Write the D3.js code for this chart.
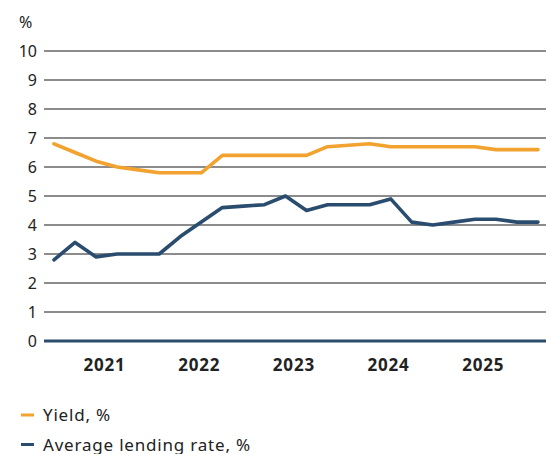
<!DOCTYPE html>
<html>
<meta charset="utf-8">
<head>
    <script src="https://d3js.org/d3.v7.min.js"></script>
    <style>
        body { margin: 0; background: #fff; }
        text { font-family: "Noto Sans", sans-serif; fill: #222; }
    </style>
</head>
<body>
    <div id="chart"></div>
</body>

<script>
    // quarterly-ish observations, one value per period
    const yieldPct = [6.8, 6.5, 6.2, 6.0, 5.9, 5.8, 5.8, 5.8, 6.4, 6.4, 6.4, 6.4,
                      6.4, 6.7, 6.75, 6.8, 6.7, 6.7, 6.7, 6.7, 6.7, 6.6, 6.6, 6.6];
    const lendingPct = [2.8, 3.4, 2.9, 3.0, 3.0, 3.0, 3.6, 4.1, 4.6, 4.65, 4.7, 5.0,
                        4.5, 4.7, 4.7, 4.7, 4.9, 4.1, 4.0, 4.1, 4.2, 4.2, 4.1, 4.1];
    const years = ["2021", "2022", "2023", "2024", "2025"];
    const yearAt = [2.4, 6.9, 11.4, 15.9, 20.4];   // label centres, in period units
    const yTicks = [0, 1, 2, 3, 4, 5, 6, 7, 8, 9, 10];
    const seriesNames = ["Yield, %", "Average lending rate, %"];
    const colors = ["#F2A22F", "#2A4C6E"];

    const W = 546, H = 454;
    const svg = d3.select("#chart").append("svg")
        .attr("width", W).attr("height", H);

    const x = d3.scaleLinear().domain([0, yieldPct.length - 1]).range([54, 538]);
    const y = d3.scaleLinear().domain([0, 10]).range([341, 51]);

    // gridlines
    svg.append("g")
        .selectAll("line")
        .data(yTicks.filter(d => d > 0))
        .join("line")
            .attr("x1", 44).attr("x2", W)
            .attr("y1", d => y(d)).attr("y2", d => y(d))
            .attr("stroke", "#1a1a1a").attr("stroke-width", 1.2);

    // y labels
    svg.append("g")
        .selectAll("text")
        .data(yTicks)
        .join("text")
            .attr("x", 37).attr("y", d => y(d))
            .attr("dy", "0.36em")
            .attr("text-anchor", "end")
            .style("font-size", "16px")
            .text(d => d);

    svg.append("text")
        .attr("x", 19).attr("y", 28)
        .style("font-size", "16px")
        .text("%");

    // zero line
    svg.append("line")
        .attr("x1", 44).attr("x2", W)
        .attr("y1", y(0)).attr("y2", y(0))
        .attr("stroke", colors[1]).attr("stroke-width", 2.8);

    // year labels
    svg.append("g")
        .selectAll("text")
        .data(years)
        .join("text")
            .attr("x", (d, i) => x(yearAt[i]))
            .attr("y", 371)
            .attr("text-anchor", "middle")
            .style("font-size", "17px")
            .style("font-weight", "bold")
            .style("letter-spacing", "0.8px")
            .text(d => d);

    // lines
    const line = d3.line()
        .x((d, i) => x(i))
        .y(d => y(d));

    [yieldPct, lendingPct].forEach((s, k) => {
        svg.append("path")
            .datum(s)
            .attr("d", line)
            .attr("fill", "none")
            .attr("stroke", colors[k])
            .attr("stroke-width", 3.6)
            .attr("stroke-linejoin", "round")
            .attr("stroke-linecap", "round");
    });

    // legend
    const lg = svg.append("g")
        .selectAll("g")
        .data(seriesNames)
        .join("g")
            .attr("transform", (d, i) => `translate(21, ${415 + i * 29.5})`);

    lg.append("line")
        .attr("x1", 0).attr("x2", 13)
        .attr("stroke", (d, i) => colors[i])
        .attr("stroke-width", 3);

    lg.append("text")
        .attr("x", 22).attr("dy", "0.38em")
        .style("font-size", "17px")
        .style("letter-spacing", "0.8px")
        .text(d => d);
</script>
</html>
